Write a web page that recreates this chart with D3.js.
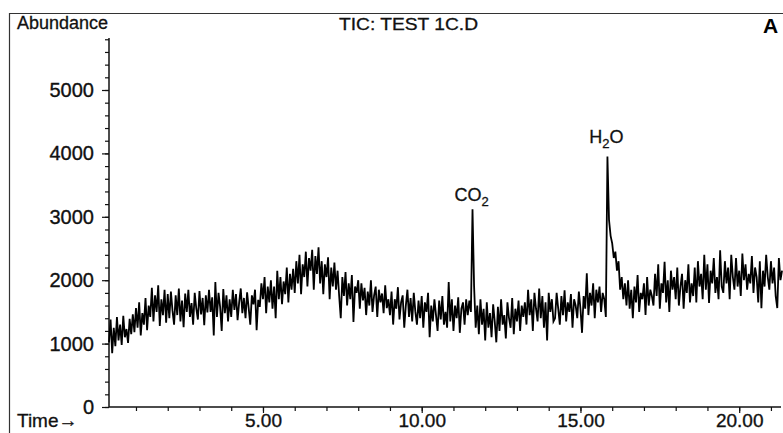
<!DOCTYPE html>
<html>
<head>
<meta charset="utf-8">
<script src="https://cdn.jsdelivr.net/npm/d3@7"></script>
<style>
  body { margin: 0; background: #fff; }
  svg { display: block; font-family: "Liberation Sans", Arial, Helvetica, sans-serif; }
</style>
</head>
<body>
<div id="chart"></div>
<script>
// scan grid of the TIC trace (minutes)
var scanStart = 0.15;
var scanStep = 0.05;

// abundance, one value per scan
var abundance = [
  1020, 1380, 850, 1250, 960, 1420, 1050, 1300, 980, 1440, 1100, 1230, 1010, 1390, 1150, 1460,
  1180, 1560, 1250, 1650, 1130, 1480, 1300, 1720, 1210, 1600,
  1420, 1880, 1350, 1760, 1500, 1920, 1280, 1700, 1450, 1850, 1330, 1780,
  1400, 1820, 1520, 1300, 1760, 1450, 1870, 1350, 1680, 1260, 1790, 1500, 1850,
  1420, 1640, 1300, 1800, 1550, 1380, 1830, 1460, 1720, 1290, 1760, 1490, 1850,
  1500, 1730, 1130, 1970, 1420, 1800, 1580, 1200, 1860, 1480, 1760, 1350,
  1700, 1420, 1850, 1530, 1780, 1370, 1650, 1870, 1480, 1720, 1400, 1810, 1560, 1300,
  1760, 1620, 1850, 1210, 1690,
  1580, 1950, 1700, 2050, 1480, 1900, 1650, 2000, 1550,
  1900, 1400, 2150, 1700, 2050, 1620, 1980, 1780, 2200, 1650, 2100, 1850, 2180,
  1800, 2300, 1950, 2400, 1780, 2250, 2050, 2450, 1900, 2350, 2150, 2480, 1850, 2380, 2100, 2520,
  1950, 2300, 1780, 2250, 2050, 2360, 1700, 2200, 1900, 2280, 1850, 2150, 1750,
  1400, 2050, 1750, 2130, 1600, 1950, 1700, 2080, 1340, 1900, 1800, 2000,
  1550, 1950, 1680, 1880, 1450, 1820, 1600, 2000, 1500, 1760, 1900, 1420, 1850, 1650,
  1790, 1480, 1920, 1560, 1700,
  1450, 1820, 1300, 1700, 1550, 1890, 1380, 1650, 1760, 1250, 1600, 1850, 1420, 1720,
  1350, 1800, 1500, 1300, 1680,
  1400, 1750, 1250, 1650, 1500, 1800, 1100, 1600, 1350, 1700, 1450, 1200, 1680, 1380, 1750, 1300,
  1500, 1250, 1970, 1350, 1700, 1200, 1600, 1400, 1730, 1170, 1550, 1650, 1300, 1700, 1450, 1680, 1500,
  3120, 1900, 1250,
  1600, 1150, 1700, 1300, 1550, 1050, 1650, 1250, 1480, 1100, 1620, 1350, 1020, 1580, 1200,
  1700, 1300, 1450, 1080, 1650, 1400, 1250, 1720, 1150, 1550, 1350, 1680, 1200, 1600, 1420,
  1650, 1300, 1850, 1450, 1700, 1200, 1800, 1550, 1350, 1870, 1400, 1750, 1250, 1650, 1050,
  1800, 1500, 1700, 1350,
  1400, 1800, 1550, 1300, 1750, 1450, 1840, 1350, 1650, 1500, 1780, 1250, 1700, 1600, 1400,
  1820, 1550, 1170, 1750,
  1550, 2110, 1450, 1800, 1600, 1950, 1400, 1850, 1650, 1900, 1500, 1800, 1700, 1420,
  3950, 2950, 2700, 2580, 2350, 2450, 2150, 2300, 1850, 2050, 1700,
  1950, 1600, 2000, 1550, 1850, 1400, 1900, 1650, 2080, 1500, 1800, 1700, 1950, 1450, 2050,
  1600, 1850, 1750,
  1600, 2100, 1750, 2250, 1550, 1950, 1800, 2290, 1650, 2000, 1500, 2150, 1850, 2050, 1700,
  2200, 1600, 1900, 2100, 1550, 2000, 1800, 2250, 1650, 1950,
  1750, 2200, 1650, 2300, 1900, 2100, 1700, 2400, 1850, 2250, 1640, 2150, 1950, 2350, 1800,
  2050, 1700, 2470, 1900,
  1800, 2300, 1950, 2200, 1700, 2400, 2050, 1850, 2350, 1900, 2150, 1750, 2420, 2000, 2250,
  1850, 2100, 1950, 2380, 1800, 2200, 2050, 1650, 2300, 1560, 2150, 1900, 2400, 2050, 1850,
  2300, 1950, 2200, 1750, 1560, 2350, 2000, 2150
];

// axis ticks
var yMajorTicks = [0, 1000, 2000, 3000, 4000, 5000];
var xMajorTicks = [5, 10, 15, 20];
var xTickLabels = ["5.00", "10.00", "15.00", "20.00"];

// labelled peaks
var peakTimes = [11.6, 15.85];
var peakTops = [3120, 3950];
var peakMain = ["CO", "H"];
var peakSub = ["2", "2"];
var peakTail = ["", "O"];

var svgWidth = 783;
var svgHeight = 433;

var svg = d3.select("#chart")
  .append("svg")
  .attr("width", svgWidth)
  .attr("height", svgHeight);

// scales
var xScale = d3.scaleLinear()
  .domain([0.15, 21.38])
  .range([109, 783]);

var yScale = d3.scaleLinear()
  .domain([0, 5000])
  .range([407, 90]);

// frame of the printout
svg.append("path")
  .attr("d", "M9.5,433 V13.5 H783")
  .attr("fill", "none")
  .attr("stroke", "#333")
  .attr("stroke-width", 1.2);

// y axis: minor ticks every 200, majors labelled
var yMinor = svg.append("g")
  .attr("transform", "translate(109,0)")
  .call(d3.axisLeft(yScale)
    .tickValues(d3.range(0, 5801, 200))
    .tickSize(4)
    .tickFormat(""));
yMinor.select(".domain").remove();

var yMajor = svg.append("g")
  .attr("transform", "translate(109,0)")
  .call(d3.axisLeft(yScale)
    .tickValues(yMajorTicks)
    .tickSize(7)
    .tickPadding(8)
    .tickFormat(d3.format("d")));
yMajor.select(".domain").remove();
yMajor.selectAll("text")
  .attr("font-size", "20px")
  .attr("font-family", "Liberation Sans, Arial, sans-serif")
  .attr("fill", "#111")
  .attr("stroke", "#111")
  .attr("stroke-width", 0.35);

svg.append("line")
  .attr("x1", 109).attr("x2", 109)
  .attr("y1", yScale(5820)).attr("y2", yScale(0))
  .attr("stroke", "#111")
  .attr("stroke-width", 1.5);

// x axis
var xMinor = svg.append("g")
  .attr("transform", "translate(0,407)")
  .call(d3.axisBottom(xScale)
    .tickValues(d3.range(1, 22, 1))
    .tickSize(4)
    .tickFormat(""));
xMinor.select(".domain").remove();

var xMajor = svg.append("g")
  .attr("transform", "translate(0,407)")
  .call(d3.axisBottom(xScale)
    .tickValues(xMajorTicks)
    .tickSize(6)
    .tickPadding(1)
    .tickFormat(function(d, i) { return xTickLabels[i]; }));
xMajor.select(".domain").remove();
xMajor.selectAll("text")
  .attr("font-size", "19px")
  .attr("font-family", "Liberation Sans, Arial, sans-serif")
  .attr("fill", "#111")
  .attr("stroke", "#111")
  .attr("stroke-width", 0.35);

svg.selectAll(".tick line")
  .attr("stroke", "#111")
  .attr("stroke-width", 1.2);

svg.append("line")
  .attr("x1", 109).attr("x2", 781)
  .attr("y1", 407).attr("y2", 407)
  .attr("stroke", "#111")
  .attr("stroke-width", 1.5);

// the trace
var line = d3.line()
  .x(function(d, i) { return xScale(scanStart + i * scanStep); })
  .y(function(d) { return yScale(d); });

svg.append("path")
  .datum(abundance)
  .attr("d", line)
  .attr("fill", "none")
  .attr("stroke", "#000")
  .attr("stroke-width", 1.8)
  .attr("stroke-linejoin", "miter");

// peak labels
var labelLift = [8, 14];
peakTimes.forEach(function(t, i) {
  var label = svg.append("text")
    .attr("x", xScale(t) - 1)
    .attr("y", yScale(peakTops[i]) - labelLift[i])
    .attr("text-anchor", "middle")
    .attr("font-size", "18px")
    .attr("fill", "#111")
    .attr("stroke", "#111")
    .attr("stroke-width", 0.3)
    .text(peakMain[i]);
  label.append("tspan")
    .attr("dy", 5)
    .attr("font-size", "13px")
    .text(peakSub[i]);
  if (peakTail[i]) {
    label.append("tspan")
      .attr("dy", -5)
      .text(peakTail[i]);
  }
});

// header texts
svg.append("text")
  .attr("x", 17)
  .attr("y", 29)
  .attr("font-size", "18px")
  .attr("fill", "#111")
  .attr("stroke", "#111")
  .attr("stroke-width", 0.3)
  .text("Abundance");

svg.append("text")
  .attr("x", 339)
  .attr("y", 30)
  .attr("font-size", "16px")
  .attr("textLength", 139)
  .attr("lengthAdjust", "spacingAndGlyphs")
  .attr("fill", "#111")
  .attr("stroke", "#111")
  .attr("stroke-width", 0.3)
  .text("TIC: TEST 1C.D");

svg.append("text")
  .attr("x", 763)
  .attr("y", 33)
  .attr("font-size", "21px")
  .attr("font-weight", "bold")
  .attr("fill", "#000")
  .text("A");

svg.append("text")
  .attr("x", 17)
  .attr("y", 427)
  .attr("font-size", "19px")
  .attr("fill", "#111")
  .attr("stroke", "#111")
  .attr("stroke-width", 0.3)
  .text("Time\u2192");
</script>
</body>
</html>
